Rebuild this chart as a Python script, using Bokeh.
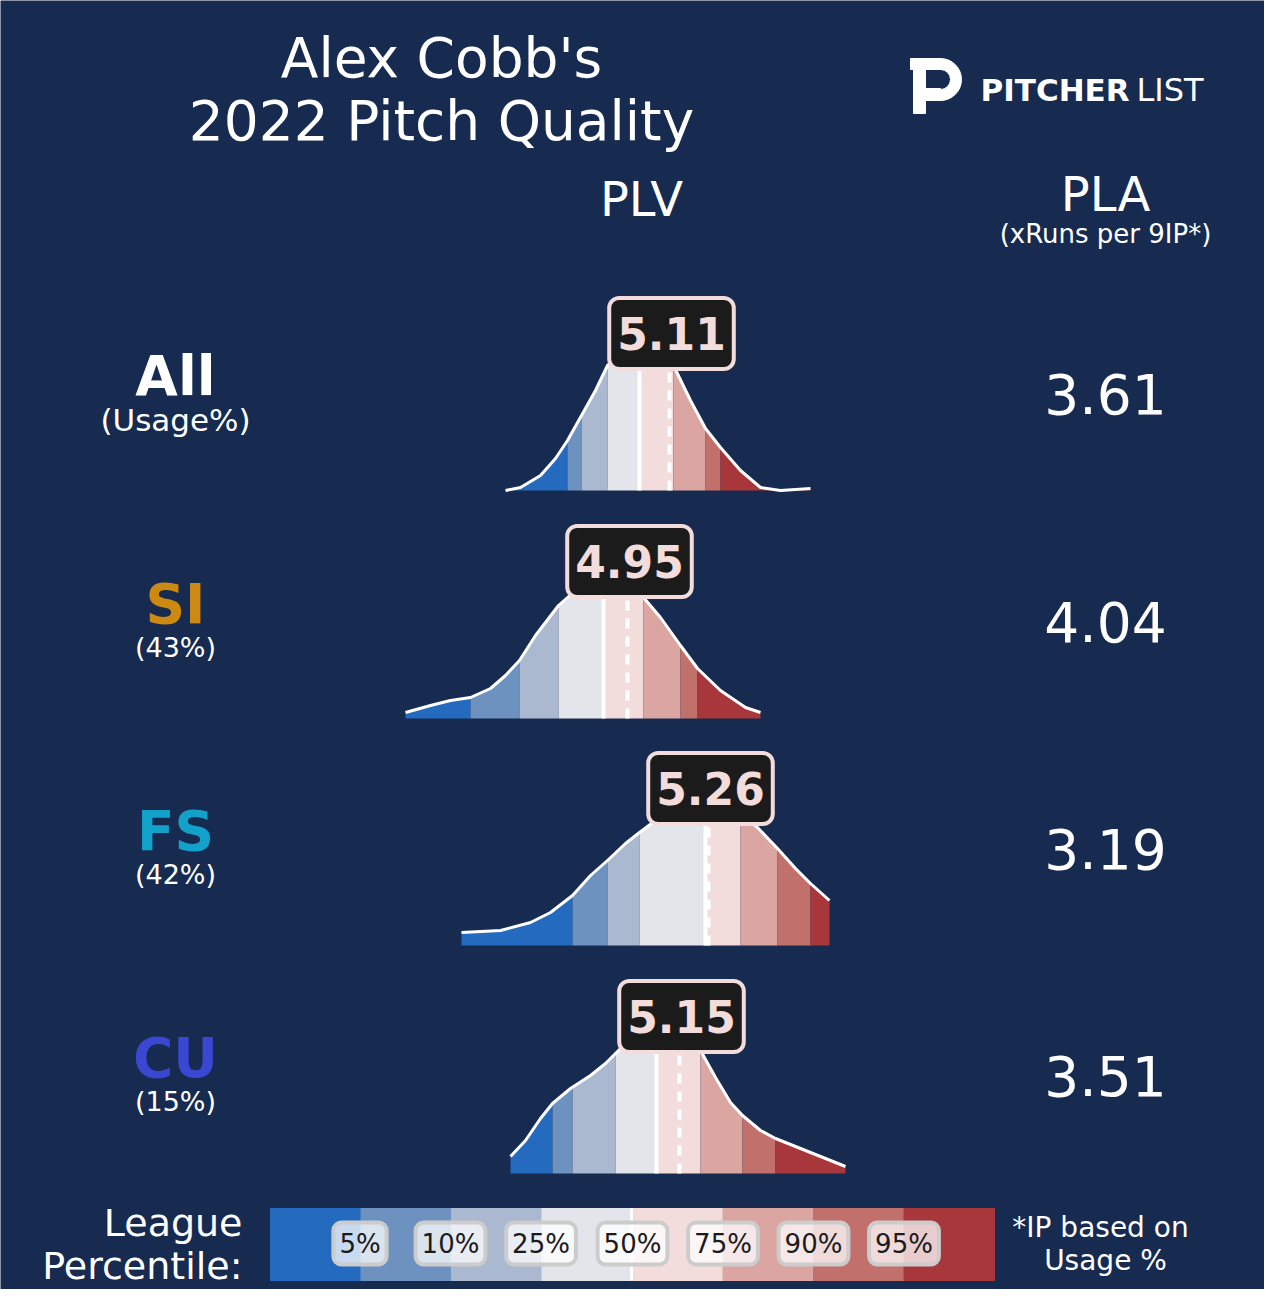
import numpy as np
from bokeh.plotting import figure
from bokeh.models import Range1d
from bokeh.core.properties import value
from bokeh.embed import file_html
from bokeh.resources import INLINE

BG = "#172A4F"
FONT = value("DejaVu Sans")

# data
pitches = ["All", "SI", "FS", "CU"]
usage = ["(Usage%)", "(43%)", "(42%)", "(15%)"]
pitch_colors = ["white", "#CC8A12", "#12A2C9", "#3A47D1"]
plv = [5.11, 4.95, 5.26, 5.15]
pla = [3.61, 4.04, 3.19, 3.51]
percentiles = ["5%", "10%", "25%", "50%", "75%", "90%", "95%"]
band_colors = ["#246BBF", "#6D92C0", "#AAB8D0", "#E4E5EB",
               "#F2DCDC", "#DBA5A2", "#C2706B", "#A8373B"]

# league percentile thresholds (PLV) per pitch
thr_all = [4.60, 4.67, 4.80, 4.96, 5.13, 5.29, 5.365]
thr_si = [4.165, 4.41, 4.605, 4.83, 5.03, 5.215, 5.30]
thr_fs = [4.58, 4.755, 4.915, 5.245, 5.42, 5.605, 5.77]
thr_cu = [4.515, 4.615, 4.83, 5.035, 5.255, 5.465, 5.63]

# league density curves (PLV grid, density)
x_all = [4.29, 4.365, 4.465, 4.54, 4.60, 4.67, 4.74, 4.80, 4.89, 4.96, 5.04,
         5.13, 5.215, 5.29, 5.365, 5.465, 5.565, 5.665, 5.815]
d_all = [0.0, 0.03, 0.15, 0.32, 0.50, 0.75, 1.00, 1.25, 1.40, 1.45, 1.42,
         1.25, 0.90, 0.62, 0.43, 0.20, 0.03, 0.0, 0.02]
x_si = [3.84, 3.965, 4.065, 4.165, 4.265, 4.34, 4.41, 4.49, 4.605, 4.69, 4.83,
        4.95, 5.03, 5.115, 5.215, 5.30, 5.415, 5.54, 5.615]
d_si = [0.06, 0.13, 0.18, 0.21, 0.30, 0.43, 0.58, 0.83, 1.13, 1.28, 1.35,
        1.33, 1.21, 1.01, 0.73, 0.50, 0.28, 0.11, 0.06]
x_fs = [4.025, 4.22, 4.37, 4.47, 4.58, 4.67, 4.755, 4.845, 4.915, 4.995, 5.12,
        5.26, 5.395, 5.505, 5.605, 5.695, 5.77, 5.865]
d_fs = [0.13, 0.15, 0.23, 0.33, 0.50, 0.70, 0.85, 1.02, 1.13, 1.25, 1.38,
        1.42, 1.35, 1.18, 0.97, 0.77, 0.62, 0.45]
x_cu = [4.305, 4.38, 4.455, 4.515, 4.605, 4.705, 4.78, 4.855, 4.955, 5.055,
        5.155, 5.255, 5.33, 5.405, 5.465, 5.555, 5.63, 5.755, 5.88, 5.98]
d_cu = [0.17, 0.33, 0.55, 0.70, 0.85, 0.98, 1.10, 1.25, 1.35, 1.38,
        1.36, 1.23, 0.96, 0.71, 0.58, 0.43, 0.35, 0.25, 0.15, 0.07]

thresholds = [thr_all, thr_si, thr_fs, thr_cu]
curves = [(x_all, d_all), (x_si, d_si), (x_fs, d_fs), (x_cu, d_cu)]

# layout (pixels)
W, H = 1264, 1289
dash_px = [669, 627, 708, 679]
base_px = [490, 718, 945, 1173]
label_y = [375, 603, 830, 1057]
XS, YS = 200, 100  # px per PLV unit, px per density unit

p = figure(width=W, height=H, output_backend="svg", toolbar_location=None,
           x_range=Range1d(0, W), y_range=Range1d(H, 0),
           min_border=0, background_fill_color=BG, border_fill_color=BG,
           outline_line_color=None)
p.axis.visible = False
p.grid.visible = False


def txt(x, y, t, size, color="white", style="normal", align="center", **kw):
    p.text(x=[x], y=[y], text=[t], text_font=FONT, text_font_size=f"{size}px",
           text_color=color, text_font_style=style, text_align=align,
           text_baseline="middle", **kw)


txt(441, 57, "Alex Cobb's", 55)
txt(441, 120, "2022 Pitch Quality", 55)
txt(641, 198, "PLV", 48)
txt(1105, 193, "PLA", 48)
txt(1105, 233, "(xRuns per 9IP*)", 26)

# logo
p.quad(left=[913], right=[925], top=[64], bottom=[113], color="white")
p.quad(left=[910], right=[940], top=[58], bottom=[69], color="white")
p.quad(left=[913], right=[940], top=[88], bottom=[100], color="white")
p.annular_wedge(x=[940], y=[79], inner_radius=10, outer_radius=21,
                start_angle=-np.pi / 2, end_angle=np.pi / 2, color="white",
                direction="anticlock")
txt(980, 89, "PITCHER", 31, style="bold", align="left")
txt(1136, 89, "LIST", 32, align="left")

for i in range(4):
    xs, ds = curves[i]
    v, dp, bp = plv[i], dash_px[i], base_px[i]
    px = lambda q: dp + (np.asarray(q) - v) * XS
    edges = [xs[0]] + thresholds[i] + [xs[-1]]
    for k in range(8):
        a, b = edges[k], edges[k + 1]
        seg = [a] + [q for q in xs if a < q < b] + [b]
        dens = np.interp(seg, xs, ds)
        p.varea(x=px(seg), y1=[bp] * len(seg), y2=bp - dens * YS,
                fill_color=band_colors[k])
    med = thresholds[i][3]
    p.segment(x0=[px(med)], x1=[px(med)], y0=[bp],
              y1=[bp - np.interp(med, xs, ds) * YS], line_color="white", line_width=4)
    p.segment(x0=[px(v)], x1=[px(v)], y0=[bp],
              y1=[bp - np.interp(v, xs, ds) * YS], line_color="white", line_width=4,
              line_dash="10 8")
    p.line(px(xs), bp - np.asarray(ds) * YS, line_color="white", line_width=3)
    txt(px(v) + 2, bp - 157, f"{v:.2f}", 44, color="#F2DCDC", style="bold",
        background_fill_color="#1B1B1B", border_line_color="#F2DCDC",
        border_line_width=4, border_radius=10, padding=(8, 19))
    txt(175, label_y[i], pitches[i], 55, color=pitch_colors[i], style="bold")
    txt(175, label_y[i] + 44, usage[i], 27 if i else 31)
    txt(1105, label_y[i] + 18, f"{pla[i]:.2f}", 55)

# legend bar
seg_w = (994 - 270) / 8
for k in range(8):
    p.quad(left=[270 + k * seg_w], right=[270 + (k + 1) * seg_w], top=[1208],
           bottom=[1280], color=band_colors[k])
p.segment(x0=[631], x1=[631], y0=[1208], y1=[1280], line_color="white", line_width=3)
for k, lab in enumerate(percentiles):
    cx = 270 + (k + 1) * seg_w - (1 if k < 3 else 0)
    txt(cx, 1243, lab, 26, color="#1B1B1B", background_fill_color="white",
        background_fill_alpha=0.75, border_line_color="#CCCCCC",
        border_line_width=4, border_radius=8, padding=(6, 6))
txt(242, 1222, "League", 38, align="right")
txt(242, 1265, "Percentile:", 38, align="right")
txt(1100, 1227, "*IP based on", 28)
txt(1105, 1260, "Usage %", 28)

open("out.html", "w").write(file_html(p, INLINE))
